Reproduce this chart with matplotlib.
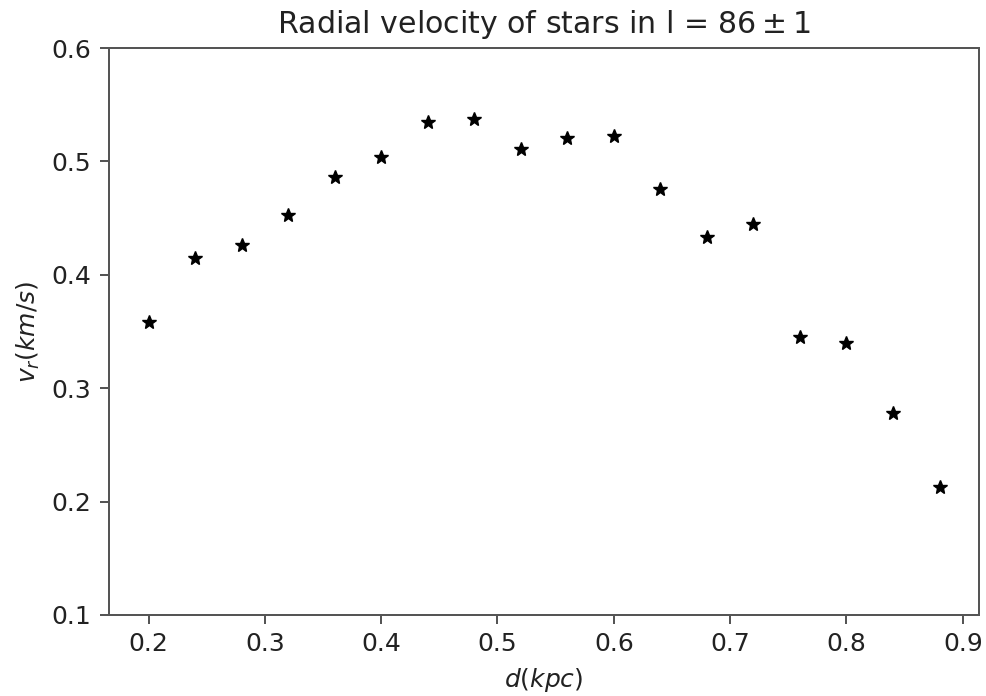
import numpy as np
import matplotlib
matplotlib.use("Agg")
import matplotlib.pyplot as plt

# ── Data ──────────────────────────────────────────────────────────────────────
d_kpc = [0.20, 0.24, 0.28, 0.32, 0.36, 0.40, 0.44, 0.48, 0.52,
         0.56, 0.60, 0.64, 0.68, 0.72, 0.76, 0.80, 0.84, 0.88]
v_r = [0.358, 0.415, 0.426, 0.453, 0.486, 0.504, 0.535, 0.537, 0.511,
       0.521, 0.522, 0.476, 0.433, 0.445, 0.345, 0.340, 0.278, 0.213]

TEXT = "#222222"
SPINE = "#555555"
S = 1.8  # scale of the reference render

fig = plt.figure(figsize=(9.86, 6.96), dpi=100)
ax = fig.add_axes([0.1105, 0.1164, 0.8825, 0.8146])

ax.plot(d_kpc, v_r, "*", color="black", markersize=6 * S)

ax.set_ylim(0.1, 0.6)
ax.set_yticks([0.1, 0.2, 0.3, 0.4, 0.5, 0.6])
ax.set_xticks([0.2, 0.3, 0.4, 0.5, 0.6, 0.7, 0.8, 0.9])

ax.set_title(r"Radial velocity of stars in l = $86 \pm 1$", fontsize=12 * S,
             color=TEXT, pad=6 * S)
ax.set_xlabel(r"$d(kpc)$", fontsize=10 * S, color=TEXT, labelpad=4 * S)
ax.set_ylabel(r"$v_r(km/s)$", fontsize=10 * S, color=TEXT, labelpad=4 * S)

for s in ax.spines.values():
    s.set_color(SPINE)
    s.set_linewidth(0.8 * S)
ax.tick_params(labelsize=10 * S, colors=SPINE, labelcolor=TEXT,
               length=3.5 * S, width=0.8 * S, pad=3.5 * S)

fig.savefig("out.png", dpi=100, facecolor="white")
